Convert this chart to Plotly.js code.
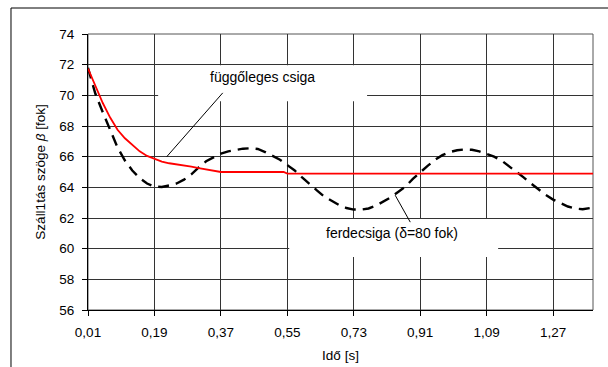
<!DOCTYPE html>
<html>
<head>
<meta charset="utf-8">
<script src="https://cdn.plot.ly/plotly-3.0.1.min.js"></script>
<style>
html,body{margin:0;padding:0;background:#fff;}
#chart{width:608px;height:367px;}
</style>
</head>
<body>
<div id="chart"></div>
<script>
// Time axis tick labels (s)
const tickValues = [0.01, 0.19, 0.37, 0.55, 0.73, 0.91, 1.09, 1.27];
const tickLabels = ["0,01", "0,19", "0,37", "0,55", "0,73", "0,91", "1,09", "1,27"];

// függőleges csiga (red)
const tVertical = [0.01, 0.03, 0.05, 0.07, 0.09, 0.11, 0.13, 0.15, 0.17, 0.19, 0.21, 0.23, 0.25, 0.27, 0.29, 0.31, 0.33, 0.35, 0.37, 0.41, 0.45, 0.50, 0.54, 0.55, 0.65, 0.80, 1.00, 1.20, 1.378];
const betaVertical = [71.75, 70.6, 69.5, 68.55, 67.75, 67.2, 66.75, 66.35, 66.05, 65.85, 65.68, 65.57, 65.5, 65.45, 65.35, 65.25, 65.15, 65.05, 65.0, 65.0, 65.0, 65.0, 65.0, 64.9, 64.9, 64.9, 64.9, 64.9, 64.9];

// ferdecsiga (delta = 80 fok), black dashed
const tInclined = [0.01, 0.03, 0.05, 0.07, 0.09, 0.11, 0.13, 0.15, 0.17, 0.19, 0.21, 0.23, 0.25, 0.27, 0.29, 0.31, 0.33, 0.35, 0.37, 0.39, 0.41, 0.43, 0.45, 0.47, 0.49, 0.51, 0.53, 0.55, 0.57, 0.59, 0.61, 0.63, 0.65, 0.67, 0.69, 0.71, 0.73, 0.75, 0.77, 0.79, 0.81, 0.83, 0.85, 0.87, 0.89, 0.91, 0.93, 0.95, 0.97, 0.99, 1.01, 1.03, 1.05, 1.07, 1.09, 1.11, 1.13, 1.15, 1.17, 1.19, 1.21, 1.23, 1.25, 1.27, 1.29, 1.31, 1.33, 1.35, 1.37];
const betaInclined = [71.8, 70.1, 68.9, 67.75, 66.6, 65.75, 65.1, 64.6, 64.25, 64.05, 64.02, 64.12, 64.25, 64.5, 64.85, 65.3, 65.7, 65.95, 66.2, 66.35, 66.45, 66.52, 66.55, 66.5, 66.3, 66.05, 65.8, 65.45, 65.1, 64.65, 64.2, 63.8, 63.4, 63.1, 62.85, 62.65, 62.55, 62.55, 62.62, 62.8, 63.05, 63.35, 63.7, 64.05, 64.55, 65.0, 65.4, 65.8, 66.1, 66.3, 66.42, 66.47, 66.45, 66.35, 66.2, 66.0, 65.75, 65.4, 65.05, 64.65, 64.25, 63.85, 63.5, 63.2, 62.95, 62.75, 62.62, 62.57, 62.65];

const FONT = "Liberation Sans, Arial, sans-serif";

const traces = [
  {x: tInclined, y: betaInclined, type: "scatter", mode: "lines", name: "ferdecsiga",
   line: {color: "#000", width: 2.4, dash: "11px,7px"}, hoverinfo: "skip"},
  {x: tVertical, y: betaVertical, type: "scatter", mode: "lines", name: "függőleges csiga",
   line: {color: "#ff0000", width: 1.8}, hoverinfo: "skip"}
];

const layout = {
  width: 608, height: 367,
  margin: {l: 88, r: 15, t: 34, b: 57},
  paper_bgcolor: "#fff", plot_bgcolor: "#fff",
  showlegend: false,
  font: {family: FONT, size: 13.5, color: "#000"},
  xaxis: {
    range: [0.01, 1.378], tickvals: tickValues, ticktext: tickLabels,
    showgrid: true, gridcolor: "#333", gridwidth: 1,
    showline: true, linecolor: "#000", linewidth: 1,
    ticks: "outside", ticklen: 5, tickcolor: "#000",
    ticklabelstandoff: 5,
    zeroline: false,
    tickfont: {family: FONT, size: 13.5, color: "#000"},
    title: {text: "Idő [s]", font: {family: FONT, size: 13.5, color: "#000"}, standoff: 11}
  },
  yaxis: {
    range: [56, 74], dtick: 2, tick0: 56,
    showgrid: true, gridcolor: "#333", gridwidth: 1,
    showline: true, linecolor: "#000", linewidth: 1,
    ticks: "outside", ticklen: 5, tickcolor: "#000",
    ticklabelstandoff: 5,
    zeroline: false,
    tickfont: {family: FONT, size: 13.5, color: "#000"},
    title: {text: "Száll1tás szöge <i>β</i> [fok]", font: {family: FONT, size: 13.5, color: "#000"}, standoff: 10}
  },
  shapes: [
    // outer chart frame
    {type: "rect", xref: "paper", yref: "paper", x0: -0.1525, x1: 1.5, y0: -0.5, y1: 1.0942,
     line: {color: "#000", width: 1}, fillcolor: "rgba(0,0,0,0)", layer: "above"},
    // plot area border
    {type: "rect", xref: "paper", yref: "paper", x0: 0, x1: 1, y0: 0, y1: 1,
     line: {color: "#555", width: 1}, fillcolor: "rgba(0,0,0,0)", layer: "between"},
    // white label boxes
    {type: "rect", xref: "x", yref: "y", x0: 0.2, x1: 0.766, y0: 69.62, y1: 71.96,
     line: {width: 0}, fillcolor: "#fff", layer: "between"},
    {type: "rect", xref: "x", yref: "y", x0: 0.555, x1: 1.121, y0: 59.45, y1: 61.93,
     line: {width: 0}, fillcolor: "#fff", layer: "between"},
    // leader lines
    {type: "line", xref: "x", yref: "y", x0: 0.223, y0: 65.99, x1: 0.375, y1: 70.16,
     line: {color: "#000", width: 1}, layer: "above"},
    {type: "line", xref: "x", yref: "y", x0: 0.842, y0: 63.49, x1: 0.883, y1: 61.73,
     line: {color: "#000", width: 1}, layer: "above"}
  ],
  annotations: [
    {x: 0.483, y: 71.18, xref: "x", yref: "y", text: "függőleges csiga", showarrow: false,
     font: {family: FONT, size: 14, color: "#000"}},
    {x: 0.834, y: 61.0, xref: "x", yref: "y", text: "ferdecsiga (δ=80 fok)", showarrow: false,
     font: {family: FONT, size: 14, color: "#000"}}
  ]
};

Plotly.newPlot("chart", traces, layout, {displayModeBar: false, staticPlot: true});
</script>
</body>
</html>
